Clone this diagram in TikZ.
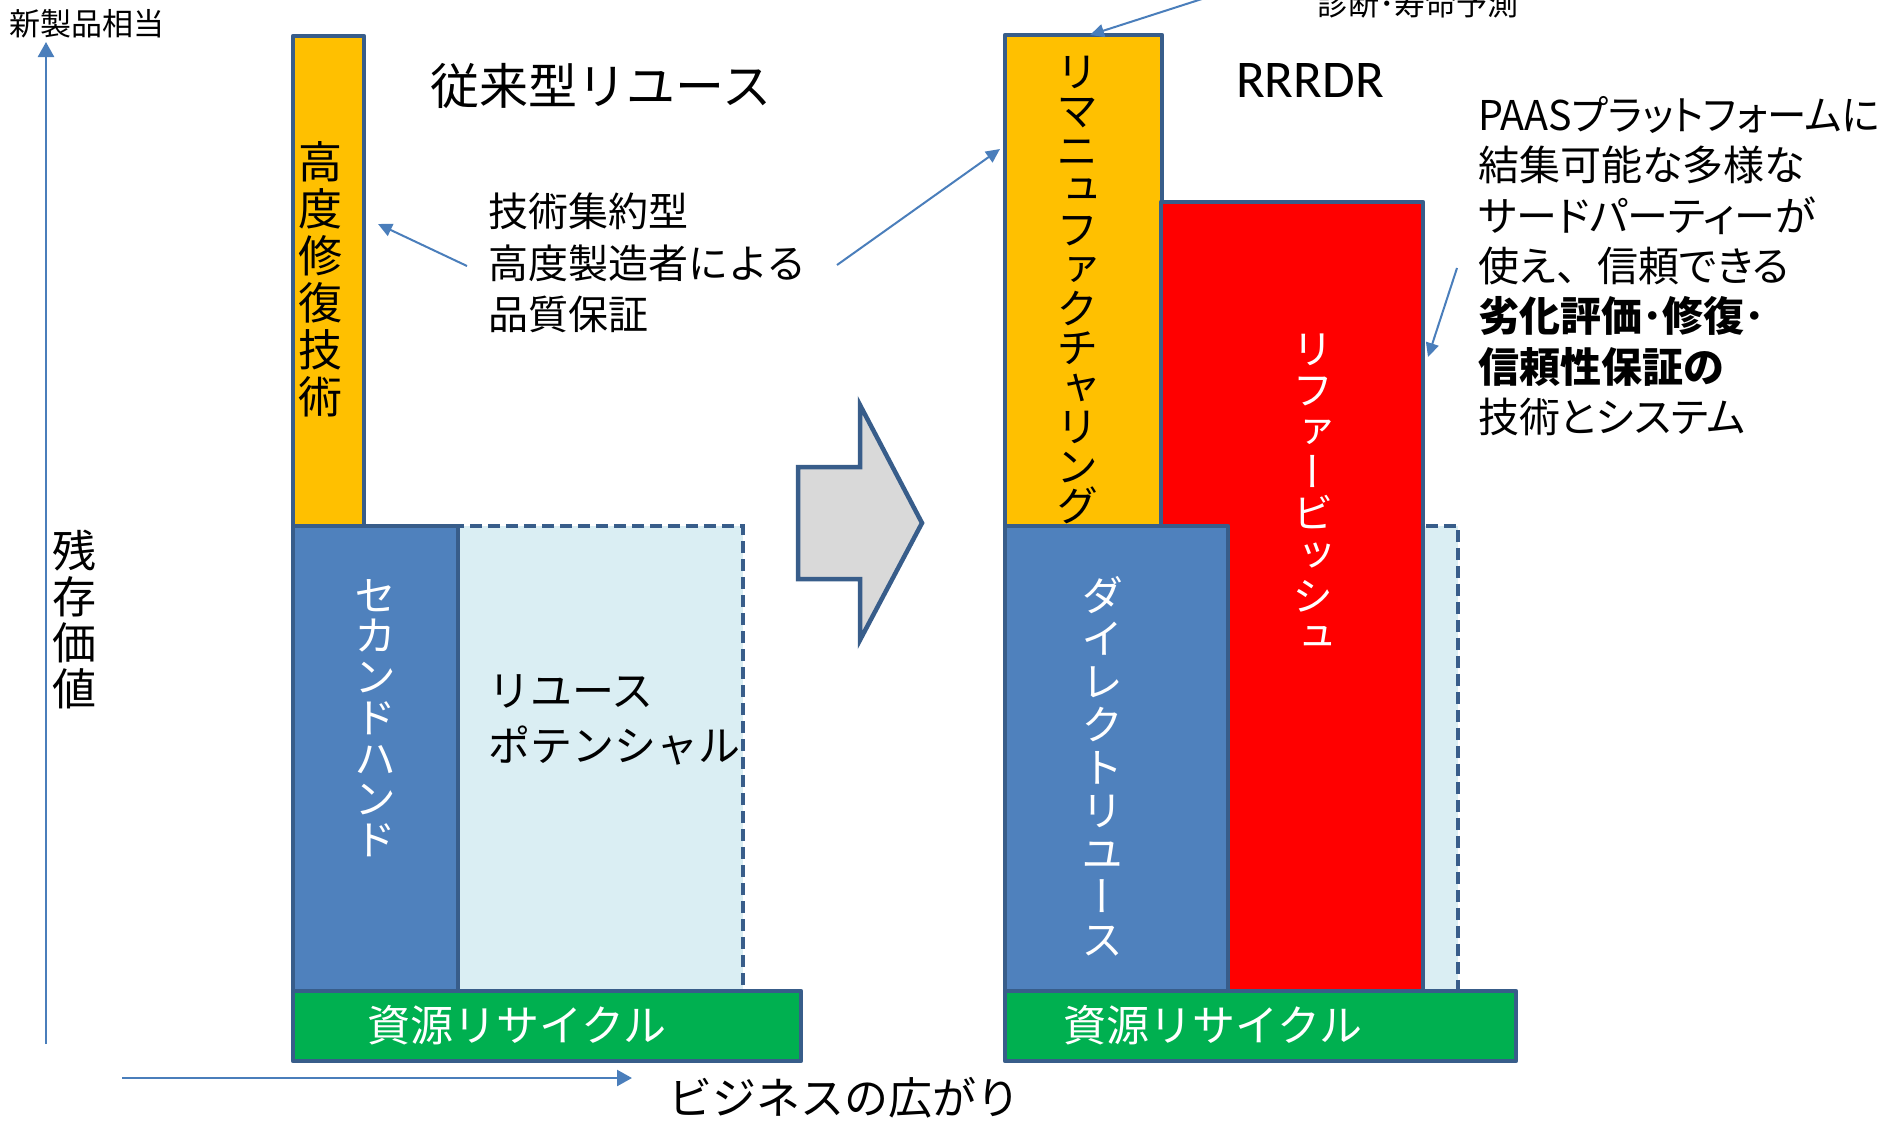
\documentclass[tikz,border=0pt]{standalone}
\usepackage{fontspec}
\setmainfont{Noto Sans CJK JP}
\newfontfamily\jpv[RawFeature=+vert]{Noto Sans CJK JP}
\newfontfamily\jpp[RawFeature=+palt]{Noto Sans CJK JP}
\newfontfamily\jpn{Noto Sans CJK JP}
\newfontfamily\latf{Carlito}
\usetikzlibrary{arrows.meta}
\definecolor{bord}{HTML}{385D8A}
\definecolor{ybox}{HTML}{FFC000}
\definecolor{bbox}{HTML}{4F81BD}
\definecolor{lbox}{HTML}{DAEEF3}
\definecolor{gbox}{HTML}{00B050}
\definecolor{rbox}{HTML}{FF0000}
\definecolor{grayarrow}{HTML}{D9D9D9}
\definecolor{arr}{HTML}{4A7EBB}
\newcommand{\vsz}[2]{\jpv\fontsize{#1}{#2}\selectfont\lineskiplimit=-\maxdimen}
\newcommand{\hsz}[2]{\fontsize{#1}{#2}\selectfont\lineskiplimit=-\maxdimen}
\tikzset{
  box/.style={draw=bord, line width=2.25pt, line join=round},
  potential/.style={fill=lbox, draw=bord, line width=2.25pt, dash pattern=on 6pt off 3pt},
  callout/.style={draw=arr, line width=1pt, -{Triangle[width=6.5pt,length=7pt]}},
  axisarrow/.style={draw=arr, line width=1.25pt, -{Triangle[width=8pt,length=7.5pt]}},
  txt/.style={inner sep=0pt, outer sep=0pt},
  vtxt/.style={txt, align=center},
}
\begin{document}
\begin{tikzpicture}[x=0.5pt,y=-0.5pt]
\useasboundingbox (0,0) rectangle (1889,1124);

% ---------- left stack (conventional reuse) ----------
\path[potential] (458,526) rectangle (743,991);
\path[box, fill=bbox] (293,526) rectangle (458,991);
\path[box, fill=ybox] (293,36) rectangle (364,526);
\path[box, fill=gbox] (293,991) rectangle (801,1061);

% ---------- block arrow ----------
\path[box, fill=grayarrow, line join=miter] (798,467) -- (860,467) -- (860,405) -- (922,523)
  -- (860,640) -- (860,579) -- (798,579) -- cycle;

% ---------- right stack (RRRDR) ----------
\path[potential] (1400,526) rectangle (1458,991);
\path[box, fill=ybox] (1005,35) rectangle (1162,526);
\path[box, fill=rbox] (1161,202) rectangle (1423,991);
\path[box, fill=bbox] (1005,526) rectangle (1228,991);
\path[box, fill=gbox] (1005,991) rectangle (1516,1061);

% ---------- texts ----------
\node[txt, anchor=west, font=\hsz{15.5}{18}] (newprod) at (10,24) {新製品相当};
\node[vtxt, font=\vsz{22}{23}] (zanzon) at (74,620) {残\\存\\価\\値};
\node[txt, font=\hsz{22}{24}] (biz) at (844,1098) {ビジネスの広がり};

\node[txt, font=\hsz{24.5}{26}] (title1) at (601,86) {従来型リユース};
\node[txt, font=\latf\fontsize{26.5}{28}\selectfont] (title2) at (1310,80) {RRRDR};

\node[vtxt, font=\vsz{22}{23.5}] (kodo) at (320,279) {高\\度\\修\\復\\技\\術};
\node[vtxt, font=\vsz{21}{20.35}, text=white] (second) at (375,718) {セ\\カ\\ン\\ド\\ハ\\ン\\ド};
\node[txt, anchor=north west, align=left, font=\hsz{21}{27.5}] (potential) at (488,675) {リユース\\ポテンシャル};
\node[txt, font=\hsz{21.5}{24}, text=white] (recycle1) at (517,1025) {資源リサイクル};

\node[txt, anchor=north west, align=left, font=\hsz{20}{25.75}] (quality) at (488,193)
  {技術集約型\\高度製造者による\\品質保証};

\node[vtxt, font=\vsz{21}{19.75}] (reman) at (1077,290)
  {リ\\マ\\ニ\\ュ\\フ\\ァ\\ク\\チ\\ャ\\リ\\ン\\グ};
\node[vtxt, font=\vsz{20.5}{20.6}, text=white] (refurb) at (1313,493)
  {リ\\フ\\ァ\\ー\\ビ\\ッ\\シ\\ュ};
\node[vtxt, font=\vsz{21}{21.5}, text=white] (direct) at (1102,766)
  {ダ\\イ\\レ\\ク\\ト\\リ\\ユ\\ー\\ス};
\node[txt, font=\hsz{21.5}{24}, text=white] (recycle2) at (1213,1025) {資源リサイクル};

\node[txt, anchor=base, font=\hsz{15.5}{18}] (diag) at (1418,16) {診断･寿命予測};

\node[txt, anchor=north west, align=left, font=\jpp\hsz{20.5}{25.15}] (paas) at (1478,96.5)
  {\resizebox{201pt}{\height}{PAASプラットフォームに}\\結集可能な多様な\\サードパーティーが\\使え{\jpn 、}信頼できる\\
   \textbf{劣化評価･修復･}\\\textbf{信頼性保証の}\\技術とシステム};

% ---------- axes ----------
\coordinate (yaxis0) at (46,1044);
\coordinate (yaxis1) at (46,42);
\coordinate (xaxis0) at (122,1078);
\coordinate (xaxis1) at (632,1078);
\draw[axisarrow] (yaxis0) -- (yaxis1);
\draw[axisarrow] (xaxis0) -- (xaxis1);

% ---------- callout arrows ----------
\coordinate (c1s) at (467,266);
\coordinate (c1e) at (378,224);
\coordinate (c2s) at (837,265);
\coordinate (c2e) at (1000,149);
\coordinate (c3s) at (1205,-2);
\coordinate (c3e) at (1090,35);
\coordinate (c4s) at (1457,268);
\coordinate (c4e) at (1428,357);
\draw[callout] (c1s) -- (c1e);
\draw[callout] (c2s) -- (c2e);
\draw[callout] (c3s) -- (c3e);
\draw[callout] (c4s) -- (c4e);
\end{tikzpicture}
\end{document}
